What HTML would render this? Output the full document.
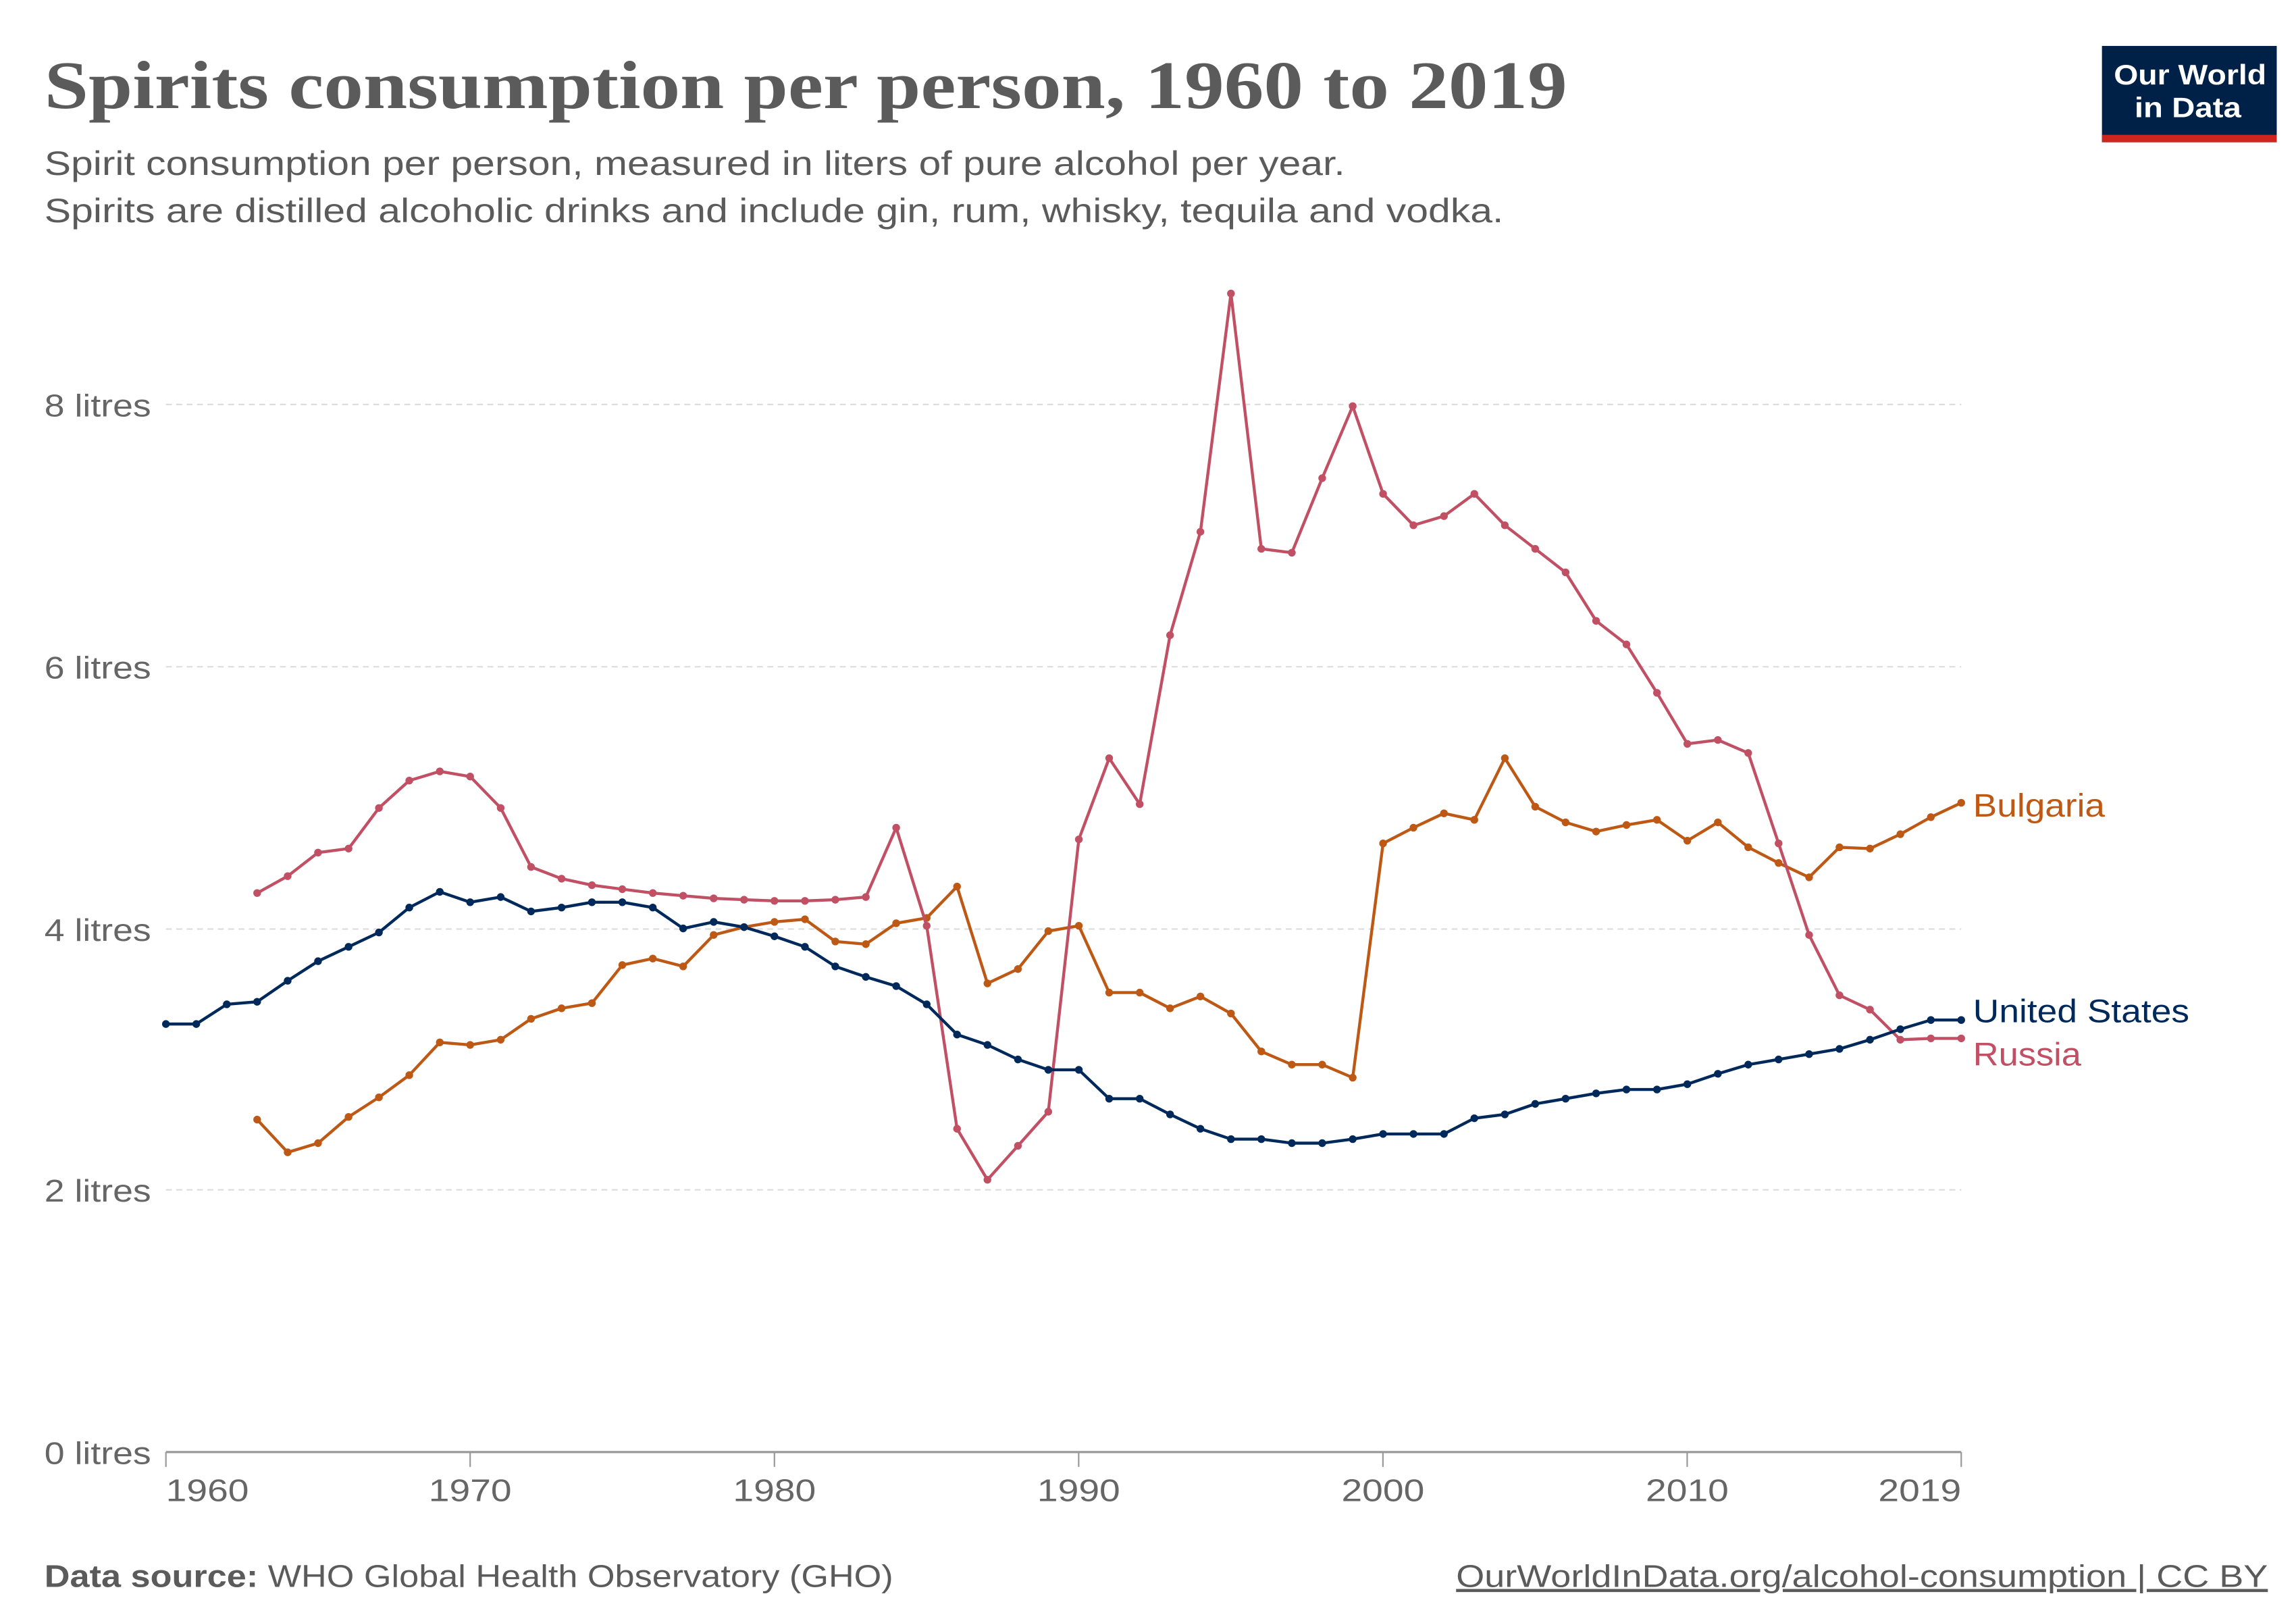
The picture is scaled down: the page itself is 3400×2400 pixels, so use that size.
<!DOCTYPE html>
<html><head><meta charset="utf-8"><style>
html,body{margin:0;padding:0;background:#fff}
svg{display:block}
</style></head><body>
<svg id="c" width="3400" height="2400" viewBox="0 0 1550 1094" preserveAspectRatio="none" xmlns="http://www.w3.org/2000/svg">
<rect width="1550" height="1094" fill="#fff"/>
<text x="30" y="73" font-family="Liberation Serif, serif" font-weight="bold" font-size="46" fill="#5b5b5b" textLength="1028" lengthAdjust="spacingAndGlyphs">Spirits consumption per person, 1960 to 2019</text>
<text x="30" y="118" font-family="Liberation Sans, sans-serif" font-size="23" fill="#5b5b5b" textLength="878" lengthAdjust="spacingAndGlyphs">Spirit consumption per person, measured in liters of pure alcohol per year.</text>
<text x="30" y="150" font-family="Liberation Sans, sans-serif" font-size="23" fill="#5b5b5b" textLength="985" lengthAdjust="spacingAndGlyphs">Spirits are distilled alcoholic drinks and include gin, rum, whisky, tequila and vodka.</text>
<rect x="1419" y="31" width="118" height="65" fill="#002147"/>
<rect x="1419" y="91" width="118" height="5" fill="#ce261e"/>
<text x="1427" y="57" font-family="Liberation Sans, sans-serif" font-weight="bold" font-size="19" fill="#fff" textLength="103" lengthAdjust="spacingAndGlyphs">Our World</text>
<text x="1441" y="79" font-family="Liberation Sans, sans-serif" font-weight="bold" font-size="19" fill="#fff" textLength="72" lengthAdjust="spacingAndGlyphs">in Data</text>
<g stroke="#dddddd" stroke-width="1" stroke-dasharray="4,3">
<line x1="112" x2="1324" y1="273" y2="273"/>
<line x1="112" x2="1324" y1="450" y2="450"/>
<line x1="112" x2="1324" y1="627" y2="627"/>
<line x1="112" x2="1324" y1="803" y2="803"/>
</g>
<g font-family="Liberation Sans, sans-serif" font-size="21" fill="#666" lengthAdjust="spacingAndGlyphs">
<text x="30" y="281" textLength="72" lengthAdjust="spacingAndGlyphs">8 litres</text>
<text x="30" y="458" textLength="72" lengthAdjust="spacingAndGlyphs">6 litres</text>
<text x="30" y="635" textLength="72" lengthAdjust="spacingAndGlyphs">4 litres</text>
<text x="30" y="811" textLength="72" lengthAdjust="spacingAndGlyphs">2 litres</text>
<text x="30" y="988" textLength="72" lengthAdjust="spacingAndGlyphs">0 litres</text>
</g>
<line x1="112" x2="1324" y1="980" y2="980" stroke="#999" stroke-width="1.5"/>
<g stroke="#999" stroke-width="1">
<line x1="112" x2="112" y1="980" y2="990"/><line x1="317.4" x2="317.4" y1="980" y2="990"/>
<line x1="522.8" x2="522.8" y1="980" y2="990"/><line x1="728.2" x2="728.2" y1="980" y2="990"/>
<line x1="933.6" x2="933.6" y1="980" y2="990"/><line x1="1139" x2="1139" y1="980" y2="990"/>
<line x1="1324" x2="1324" y1="980" y2="990"/>
</g>
<g font-family="Liberation Sans, sans-serif" font-size="21" fill="#666">
<text x="112" y="1013" textLength="56" lengthAdjust="spacingAndGlyphs">1960</text>
<text x="289.4" y="1013" textLength="56" lengthAdjust="spacingAndGlyphs">1970</text>
<text x="494.8" y="1013" textLength="56" lengthAdjust="spacingAndGlyphs">1980</text>
<text x="700.2" y="1013" textLength="56" lengthAdjust="spacingAndGlyphs">1990</text>
<text x="905.6" y="1013" textLength="56" lengthAdjust="spacingAndGlyphs">2000</text>
<text x="1111" y="1013" textLength="56" lengthAdjust="spacingAndGlyphs">2010</text>
<text x="1268" y="1013" textLength="56" lengthAdjust="spacingAndGlyphs">2019</text>
</g>
<g id="series"></g>
<text x="1332" y="551" font-family="Liberation Sans, sans-serif" font-size="22" fill="#be5915" textLength="89" lengthAdjust="spacingAndGlyphs">Bulgaria</text>
<text x="1332" y="690" font-family="Liberation Sans, sans-serif" font-size="22" fill="#00295b" textLength="146" lengthAdjust="spacingAndGlyphs">United States</text>
<text x="1332" y="719" font-family="Liberation Sans, sans-serif" font-size="22" fill="#c15065" textLength="73" lengthAdjust="spacingAndGlyphs">Russia</text>
<text x="30" y="1071" font-family="Liberation Sans, sans-serif" font-size="21" fill="#5b5b5b" textLength="573" lengthAdjust="spacingAndGlyphs"><tspan font-weight="bold">Data source:</tspan> WHO Global Health Observatory (GHO)</text>
<text x="983" y="1071" font-family="Liberation Sans, sans-serif" font-size="21" fill="#5b5b5b" text-decoration="underline" textLength="548" lengthAdjust="spacingAndGlyphs">OurWorldInData.org/alcohol-consumption | CC BY</text>
</svg>
<script>
var us=[3.27,3.27,3.42,3.44,3.6,3.75,3.86,3.97,4.16,4.28,4.2,4.24,4.13,4.16,4.2,4.2,4.16,4.0,4.05,4.01,3.94,3.86,3.71,3.63,3.56,3.42,3.19,3.11,3.0,2.92,2.92,2.7,2.7,2.58,2.47,2.39,2.39,2.36,2.36,2.39,2.43,2.43,2.43,2.55,2.58,2.66,2.7,2.74,2.77,2.77,2.81,2.89,2.96,3.0,3.04,3.08,3.15,3.23,3.3,3.3];
var ru=[4.27,4.4,4.58,4.61,4.92,5.13,5.2,5.16,4.92,4.47,4.38,4.33,4.3,4.27,4.25,4.23,4.22,4.21,4.21,4.22,4.24,4.77,4.02,2.47,2.08,2.34,2.6,4.68,5.3,4.95,6.24,7.03,8.85,6.9,6.87,7.44,7.99,7.32,7.08,7.15,7.32,7.08,6.9,6.72,6.35,6.17,5.8,5.41,5.44,5.34,4.65,3.95,3.49,3.38,3.15,3.16,3.16];
var bg=[2.54,2.29,2.36,2.56,2.71,2.88,3.13,3.11,3.15,3.31,3.39,3.43,3.72,3.77,3.71,3.95,4.01,4.05,4.07,3.9,3.88,4.04,4.08,4.32,3.58,3.69,3.98,4.02,3.51,3.51,3.39,3.48,3.35,3.06,2.96,2.96,2.86,4.65,4.77,4.88,4.83,5.3,4.93,4.81,4.74,4.79,4.83,4.67,4.81,4.62,4.5,4.39,4.62,4.61,4.72,4.85,4.96];
var g=document.getElementById('series'),h='';
function draw(d,start,col){var p=[];for(var i=0;i<d.length;i++){var x=112+(start+i-1960)*1212/59,y=980-88.35*d[i];p.push(x.toFixed(1)+','+y.toFixed(1));h+='<circle cx="'+x.toFixed(1)+'" cy="'+y.toFixed(1)+'" r="2.6" fill="'+col+'"/>';}
h='<polyline fill="none" stroke="'+col+'" stroke-width="2" stroke-linejoin="round" points="'+p.join(' ')+'"/>'+h;}
var all='';
h='';draw(bg,1963,'#be5915');all+=h;
h='';draw(ru,1963,'#c15065');all+=h;
h='';draw(us,1960,'#00295b');all+=h;
g.innerHTML=all;
</script>
</body></html>
